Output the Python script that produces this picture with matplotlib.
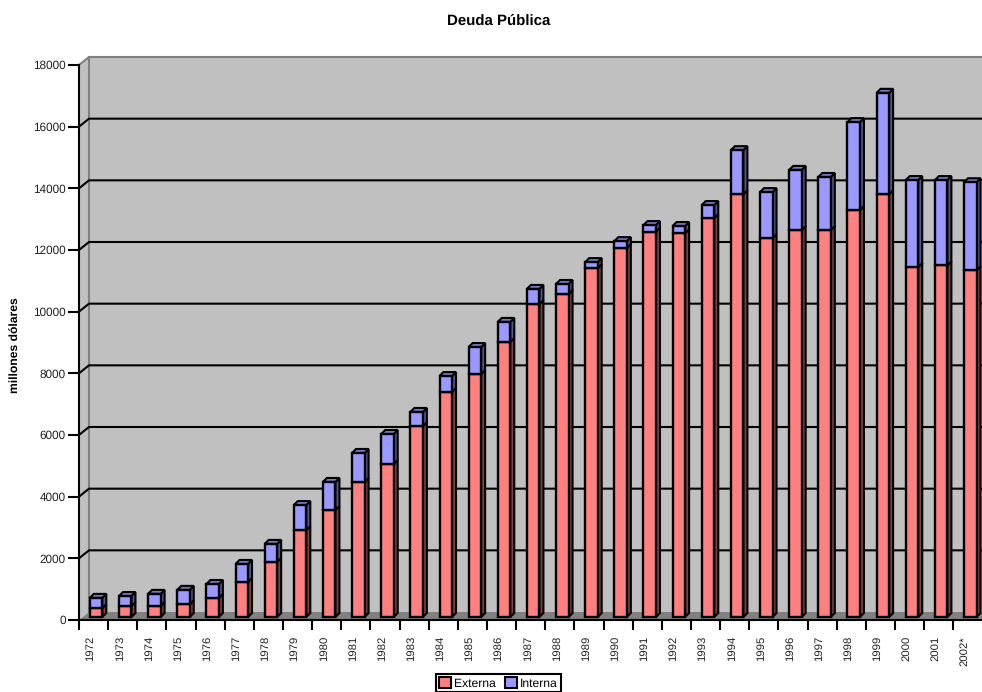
import numpy as np
import matplotlib
matplotlib.use('Agg')
import matplotlib.pyplot as plt
from matplotlib.patches import Polygon, Patch

plt.rcParams['font.family'] = ['Liberation Sans', 'DejaVu Sans']
plt.rcParams['text.hinting'] = 'none'

# values, millones de dolares
years = ['1972', '1973', '1974', '1975', '1976', '1977', '1978', '1979', '1980', '1981',
         '1982', '1983', '1984', '1985', '1986', '1987', '1988', '1989', '1990', '1991',
         '1992', '1993', '1994', '1995', '1996', '1997', '1998', '1999', '2000', '2001', '2002*']
externa = [290, 360, 360, 420, 620, 1135, 1790, 2820, 3470, 4380,
           4960, 6190, 7300, 7880, 8920, 10150, 10475, 11320, 11965, 12500,
           12450, 12940, 13710, 12290, 12550, 12550, 13200, 13710, 11350, 11400, 11250]
total = [620, 680, 750, 880, 1070, 1720, 2370, 3630, 4380, 5320,
         5935, 6650, 7815, 8755, 9570, 10640, 10800, 11510, 12190, 12710,
         12680, 13360, 15140, 13780, 14500, 14270, 16050, 17000, 14170, 14170, 14100]
interna = [t - e for t, e in zip(total, externa)]
yticks = [0, 2000, 4000, 6000, 8000, 10000, 12000, 14000, 16000, 18000]

W, H = 982, 692
left, right, bottom, top = 79, 982, 620, 65
cat_px = 29.14
px_x = 1 / cat_px
px_y = 18000 / (bottom - top)

fig = plt.figure(figsize=(W / 100, H / 100), dpi=100)
ax = fig.add_axes([left / W, (H - bottom) / H, (right - left) / W, (bottom - top) / H])
xmin, xmax = -0.5, -0.5 + (right - left) / cat_px
ax.set_xlim(xmin, xmax)
ax.set_ylim(0, 18000)
ax.patch.set_visible(False)

# 3d box: back wall, side wall and floor
wx = 10 * px_x
wy = 8 * px_y
ax.add_patch(Polygon([(xmin + wx, wy), (xmax + 1, wy), (xmax + 1, 18000 + wy), (xmin + wx, 18000 + wy)],
                     fc='#c0c0c0', ec='none', clip_on=False, zorder=0))
ax.add_patch(Polygon([(xmin, 0), (xmin + wx, wy), (xmin + wx, 18000 + wy), (xmin, 18000)],
                     fc='#c0c0c0', ec='none', clip_on=False, zorder=0))
ax.add_patch(Polygon([(xmin, 0), (xmin + wx, wy), (xmax + 1, wy), (xmax + 1, 0)],
                     fc='#808080', ec='none', clip_on=False, zorder=0))
ax.plot([xmin, xmin + wx, xmax + 1], [18000, 18000 + wy, 18000 + wy],
        color='#808080', lw=1.5, clip_on=False, zorder=1)
ax.plot([xmin + wx, xmin + wx], [wy, 18000 + wy], color='#808080', lw=1.5, clip_on=False, zorder=1)
for v in yticks[1:-1]:
    ax.plot([xmin, xmin + wx, xmax + 1], [v, v + wy, v + wy], color='black', lw=1.5,
            clip_on=False, zorder=1)

# bars with a fake depth
bw = 12.5 * px_x
dx = 4 * px_x
dy = 4 * px_y
shift = 2.5 * px_x
base = 3 * px_y
x = np.arange(len(years)) + shift


def box(xc, y0, y1, face, side, cap=None):
    x0, x1 = xc - bw / 2, xc + bw / 2
    ax.add_patch(Polygon([(x1, y0), (x1 + dx, y0 + dy), (x1 + dx, y1 + dy), (x1, y1)],
                         fc=side, ec='black', lw=1.5, clip_on=False, zorder=3, joinstyle='miter'))
    if cap:
        ax.add_patch(Polygon([(x0, y1), (x0 + dx, y1 + dy), (x1 + dx, y1 + dy), (x1, y1)],
                             fc=cap, ec='black', lw=1.5, clip_on=False, zorder=3, joinstyle='miter'))
    ax.add_patch(Polygon([(x0, y0), (x1, y0), (x1, y1), (x0, y1)],
                         fc=face, ec='black', lw=1.7, clip_on=False, zorder=4, joinstyle='miter'))


for xc, e, i in zip(x, externa, interna):
    box(xc, base, base + e, '#ff8080', '#804040')
    box(xc, base + e, base + e + i, '#9999ff', '#55558f', '#7a7ac8')

for s in ['top', 'right']:
    ax.spines[s].set_visible(False)
for s in ['left', 'bottom']:
    ax.spines[s].set_linewidth(1.5)
    ax.spines[s].set_zorder(5)

ax.set_yticks(yticks)
ax.set_yticklabels([str(v) for v in yticks], fontsize=8.5, color='#222222')
ax.tick_params(axis='y', length=8, width=1.5, pad=1.5)

ax.set_xticks(np.arange(len(years)) - 0.5)
ax.set_xticklabels([])
ax.tick_params(axis='x', which='major', length=7, width=1.5)
ax.set_xticks(np.arange(len(years)) - 0.1, minor=True)
ax.set_xticklabels(years, minor=True, rotation=90, fontsize=8.2, ha='center', va='top', color='#222222')
ax.tick_params(axis='x', which='minor', length=0, pad=11.5)

fig.text(499 / W, 1 - 21 / H, 'Deuda Pública', fontsize=10.8, fontweight='bold', ha='center', va='center')
fig.text(15 / W, 1 - 345 / H, 'millones dólares', fontsize=8.7, fontweight='bold', rotation=90,
         ha='center', va='center')

handles = [Patch(fc='#ff8080', ec='black', lw=1.5, label='Externa'),
           Patch(fc='#9999ff', ec='black', lw=1.5, label='Interna')]
leg = ax.legend(handles=handles, ncol=2, loc='lower center', bbox_to_anchor=(498.5 / W, 0),
                bbox_transform=fig.transFigure, fontsize=8.7, frameon=True, fancybox=False,
                framealpha=1, edgecolor='black', borderpad=0.25, handlelength=1, handleheight=1,
                handletextpad=0.2, columnspacing=0.8, borderaxespad=0)
leg.get_frame().set_linewidth(1.5)

fig.savefig('out.png', dpi=100)
